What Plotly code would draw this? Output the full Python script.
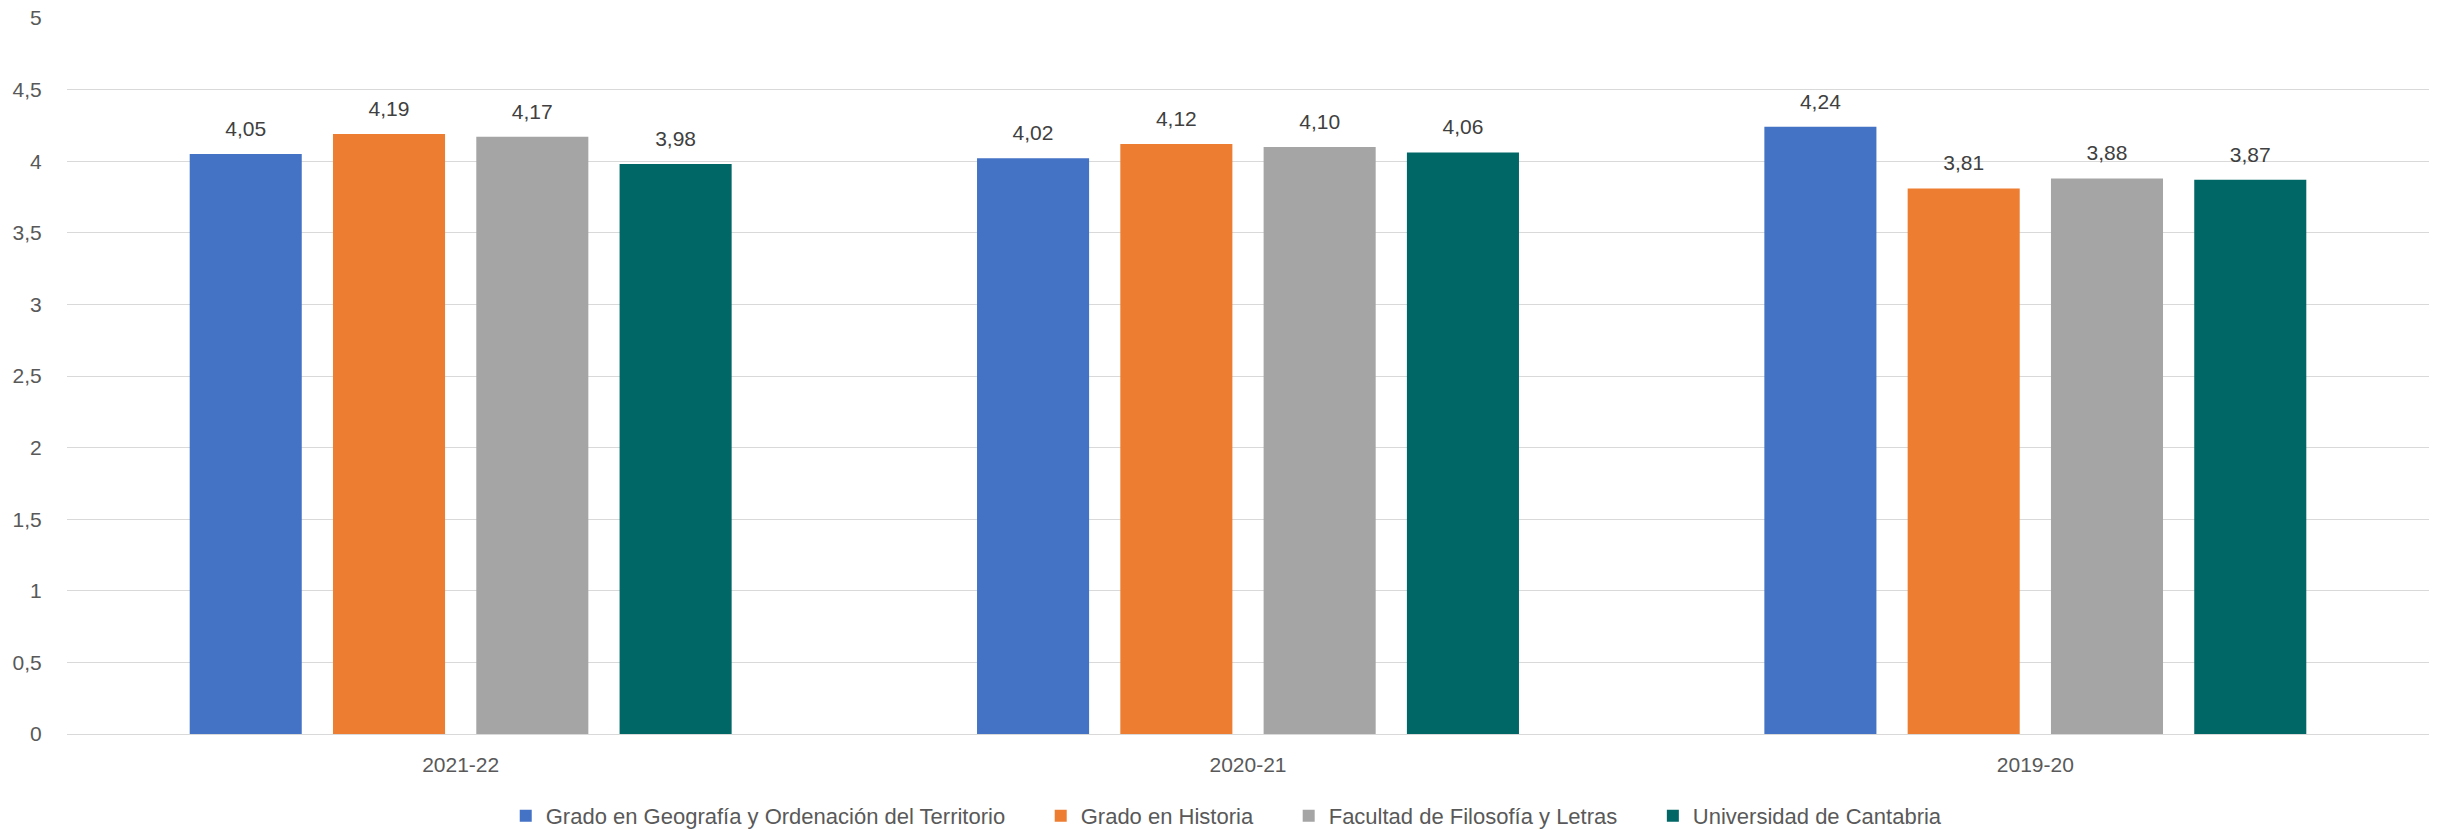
import plotly.graph_objects as go

categories = ["2021-22", "2020-21", "2019-20"]
series_names = [
    "Grado en Geografía y Ordenación del Territorio",
    "Grado en Historia",
    "Facultad de Filosofía y Letras",
    "Universidad de Cantabria",
]
geografia = [4.05, 4.02, 4.24]
historia = [4.19, 4.12, 3.81]
facultad = [4.17, 4.10, 3.88]
universidad = [3.98, 4.06, 3.87]
colors = ["#4472C4", "#ED7D31", "#A5A5A5", "#006666"]
y_ticks = [0, 0.5, 1, 1.5, 2, 2.5, 3, 3.5, 4, 4.5, 5]

FONT = "Liberation Sans"
BARGAP = 0.272
W, H = 2438, 830
PAD = "\u00a0" * 5  # extra spacing between legend entries
fig = go.Figure()
all_vals = [geografia, historia, facultad, universidad]
for i, (name, vals, col) in enumerate(zip(series_names, all_vals, colors)):
    fig.add_trace(go.Bar(
        x=categories, y=vals, name=name + (PAD if i < len(series_names) - 1 else ""),
        offsetgroup=str(i), marker=dict(color=col, line=dict(width=0)),
    ))
for i, vals in enumerate(all_vals):
    fig.add_trace(go.Scatter(
        x=categories, y=vals, offsetgroup=str(i), mode="markers+text",
        marker=dict(size=19, color="rgba(0,0,0,0)"),
        text=[f"{v:.2f}".replace(".", ",") for v in vals],
        textposition="top center",
        textfont=dict(family=FONT, size=21, color="#404040"),
        cliponaxis=False, showlegend=False, hoverinfo="skip",
    ))

fig.update_layout(
    width=W, height=H,
    margin=dict(l=67, r=9, t=18, b=96),
    paper_bgcolor="white", plot_bgcolor="white",
    barmode="group", bargap=BARGAP, bargroupgap=0.218,
    scattermode="group", scattergap=BARGAP,
    separators=",.",
    font=dict(family=FONT, size=21, color="#595959"),
    showlegend=True,
    legend=dict(orientation="h", x=0.491, xanchor="center", yref="container",
                y=1 - 816 / H, yanchor="middle",
                font=dict(family=FONT, size=22, color="#595959"),
                itemwidth=30, traceorder="normal"),
    xaxis=dict(showgrid=False, showline=False, ticks="outside", ticklen=12,
               tickcolor="rgba(0,0,0,0)", automargin=False,
               tickfont=dict(size=21, color="#595959")),
    yaxis=dict(range=[0, 5], tickvals=y_ticks, showgrid=True, gridcolor="#D9D9D9",
               gridwidth=1.3, zeroline=True, zerolinecolor="#D9D9D9", zerolinewidth=1.3,
               showline=False, ticks="outside", ticklen=20, tickcolor="rgba(0,0,0,0)",
               automargin=False, tickfont=dict(size=21, color="#595959")),
)
fig.write_html("out.html", config={"displayModeBar": False},
               post_script="document.body.style.margin='0';")
